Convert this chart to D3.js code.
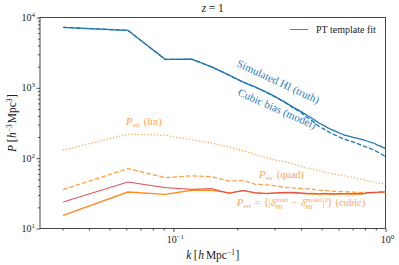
<!DOCTYPE html>
<html>
<head>
<meta charset="utf-8">
<script src="https://cdn.jsdelivr.net/npm/d3@7"></script>
<style>
	body { margin: 0; background: #fff; }
	svg { display: block; }
	text { font-family: "Liberation Serif", "DejaVu Serif", serif; }
</style>
</head>
<body>
<div class="chart"></div>
<script>

// wavenumbers k [h/Mpc]
const kvals = [0.0302, 0.061, 0.0915, 0.122, 0.1525, 0.183, 0.2135, 0.244, 0.2745, 0.305,
	0.3355, 0.366, 0.3965, 0.427, 0.4575, 0.488, 0.5185, 0.549, 0.5795, 0.61,
	0.6405, 0.671, 0.7015, 0.732, 0.7625, 0.793, 0.8235, 0.854, 0.8845, 0.915,
	0.9455, 0.976, 1.0065];

const truth = [7250, 6570, 2540, 2565, 1970, 1520, 1205, 1025, 868, 737,
	626, 531, 466, 408, 358, 314, 285, 258, 242, 226,
	212, 205, 198, 192, 186, 180, 174, 168, 163, 153,
	148, 141, 137];

const model = [7230, 6540, 2530, 2555, 1965, 1515, 1200, 1020, 862, 730,
	618, 522, 451, 382, 330, 280, 254, 230, 212, 198,
	186, 177, 170, 163, 155, 148, 141, 136, 130, 123,
	117, 110, 104];

const errLin = [130, 219, 212, 183, 163, 145, 127.5, 112, 101, 93.3,
	88.9, 83.2, 76.7, 71.8, 69.5, 66.2, 63.0, 60.9, 59.0, 57.1,
	56.2, 54.3, 53.5, 51.7, 50.1, 49.2, 47.6, 46.9, 45.4, 44.6,
	43.9, 43.9, 43.5];

const errQuad = [35.7, 71.1, 52.9, 56.2, 54.3, 47.3, 48.4, 42.5, 41.8, 40.4,
	38.5, 37.9, 37.2, 36.7, 36.1, 34.9, 34.9, 34.3, 33.8, 33.8,
	33.2, 33.2, 33.0, 32.7, 32.7, 32.1, 32.7, 32.1, 32.7, 32.4,
	32.7, 32.4, 32.4];

const ptFit = [23.8, 45.8, 38.1, 36.1, 36.9, 31.6, 34.9, 32.1, 31.6, 32.1,
	32.7, 32.7, 32.1, 31.6, 31.6, 31.1, 31.6, 31.1, 31.1, 31.6,
	31.1, 31.6, 31.1, 31.6, 31.1, 31.6, 32.1, 32.7, 32.7, 32.7,
	33.0, 33.0, 33.0];

const errCubic = [15.4, 33.0, 30.6, 34.9, 34.9, 32.1, 34.3, 32.1, 31.3, 31.8,
	32.2, 32.0, 31.6, 31.2, 31.0, 30.8, 31.2, 30.9, 30.7, 31.2,
	30.8, 31.0, 30.7, 31.1, 30.9, 31.3, 31.8, 32.3, 32.4, 32.6,
	32.9, 33.1, 33.2];

const xDomain = [0.0235, 1];
const yDomain = [10, 1e4];
const xMajor = [0.1, 1];
const yMajor = [10, 100, 1000, 10000];

const width = 399;
const height = 265;
const mLeft = 40, mRight = 385.5, mTop = 17.5, mBottom = 228.5;

const blue = "#1f77b4";
const orange = "#ff8c1f";
const orangeLight = "#ff9f45";
const orangeText = "#ffa352";
const red = "#dd4a50";

const x = d3.scaleLog().domain(xDomain).range([mLeft, mRight]);
const y = d3.scaleLog().domain(yDomain).range([mBottom, mTop]);

const svg = d3.select(".chart")
	.append("svg")
		.attr("width", width)
		.attr("height", height);

svg.append("clipPath")
		.attr("id", "clip")
	.append("rect")
		.attr("x", mLeft)
		.attr("y", mTop)
		.attr("width", mRight - mLeft)
		.attr("height", mBottom - mTop);

// lay out a run of text pieces (for super/subscripts)
function mathText(g, x0, y0, parts, color, size) {
	let cx = x0;
	let held = 0;
	parts.forEach((p) => {
		const t = g.append("text")
			.attr("x", cx)
			.attr("y", y0 + (p.dy || 0))
			.attr("fill", color)
			.attr("font-size", p.s || size)
			.attr("font-style", p.it ? "italic" : "normal")
			.text(p.t);
		const w = t.node().getComputedTextLength();
		if (p.hold) {
			held = Math.max(held, w);
		} else {
			cx += Math.max(w, held) + (p.pad || 0);
			held = 0;
		}
	});
	return cx - x0;
}

// minor tick values
const xMinor = [];
[0.01, 0.1].forEach((d) => {
	for (let i = 2; i < 10; i++) {
		const v = d * i;
		if (v > xDomain[0] && v < xDomain[1]) xMinor.push(v);
	}
});
const yMinor = [];
[10, 100, 1000].forEach((d) => {
	for (let i = 2; i < 10; i++) yMinor.push(d * i);
});

// axes
svg.append("g")
	.attr("class", "x-axis")
	.attr("transform", `translate(0,${mBottom})`)
	.call(d3.axisBottom(x).tickValues(xMajor).tickSize(3.5).tickFormat(""));
svg.append("g")
	.attr("transform", `translate(0,${mBottom})`)
	.call(d3.axisBottom(x).tickValues(xMinor).tickSize(2).tickFormat(""));

svg.append("g")
	.attr("class", "y-axis")
	.attr("transform", `translate(${mLeft},0)`)
	.call(d3.axisLeft(y).tickValues(yMajor).tickSize(3.5).tickFormat(""));
svg.append("g")
	.attr("transform", `translate(${mLeft},0)`)
	.call(d3.axisLeft(y).tickValues(yMinor).tickSize(2).tickFormat(""));

svg.selectAll(".domain").remove();
svg.selectAll(".tick line").attr("stroke", "#222").attr("stroke-width", 0.8);

// tick labels with superscripts
const labels = svg.append("g");
xMajor.forEach((v) => {
	const e = Math.round(Math.log10(v));
	const g = labels.append("g");
	const w = mathText(g, 0, 0, [
		{t: "10"},
		{t: (e < 0 ? "\u2212" : "") + Math.abs(e), s: 7, dy: -4}
	], "#222", 10);
	g.attr("transform", `translate(${x(v) - w / 2 + 2},${mBottom + 14})`);
});
yMajor.forEach((v) => {
	const e = Math.round(Math.log10(v));
	const g = labels.append("g");
	const w = mathText(g, 0, 0, [
		{t: "10"},
		{t: "" + e, s: 7, dy: -4}
	], "#222", 10);
	g.attr("transform", `translate(${mLeft - 5 - w},${y(v) + 3.5})`);
});

// frame
svg.append("rect")
	.attr("x", mLeft)
	.attr("y", mTop)
	.attr("width", mRight - mLeft)
	.attr("height", mBottom - mTop)
	.attr("fill", "none")
	.attr("stroke", "#333")
	.attr("stroke-width", 0.9);

// series lines
const line = d3.line()
	.x((d) => x(d[0]))
	.y((d) => y(d[1]));

const series = [
	{v: errLin, color: orangeLight, w: 1.2, dash: "1.2,2"},
	{v: errQuad, color: orangeLight, w: 1.3, dash: "4.5,2.2"},
	{v: errCubic, color: orange, w: 1.4, dash: null},
	{v: ptFit, color: red, w: 1.0, dash: null},
	{v: truth, color: blue, w: 1.3, dash: null},
	{v: model, color: blue, w: 1.3, dash: "4.5,2"}
];

const chart = svg.append("g").attr("clip-path", "url(#clip)");
chart.selectAll(".series")
	.data(series).enter()
	.append("path")
		.attr("class", "series")
		.attr("fill", "none")
		.attr("stroke", (d) => d.color)
		.attr("stroke-width", (d) => d.w)
		.attr("stroke-dasharray", (d) => d.dash)
		.attr("d", (d) => line(kvals.map((k, i) => [k, d.v[i]])));

// title
const title = svg.append("g");
const tw = mathText(title, 0, 0, [{t: "z", it: true, pad: 2.5}, {t: "= 1"}], "#222", 11.5);
title.attr("transform", `translate(${(mLeft + mRight) / 2 - tw / 2},12)`);

// legend
svg.append("line")
	.attr("x1", 290).attr("x2", 308)
	.attr("y1", 29.5).attr("y2", 29.5)
	.attr("stroke", red)
	.attr("stroke-width", 1);
svg.append("text")
	.attr("x", 316)
	.attr("y", 32.5)
	.attr("font-size", 10)
	.attr("fill", "#222")
	.text("PT template fit");

// axis titles
const xl = svg.append("g");
const xlw = mathText(xl, 0, 0, [
	{t: "k", it: true, pad: 2.5},
	{t: "[", pad: 0.5},
	{t: "h", it: true, pad: 2},
	{t: "Mpc"},
	{t: "\u22121", s: 7.5, dy: -4.5, pad: 0.5},
	{t: "]"}
], "#222", 11.5);
xl.attr("transform", `translate(${(mLeft + mRight) / 2 - xlw / 2},259)`);

const yl = svg.append("g");
const ylw = mathText(yl, 0, 0, [
	{t: "P", it: true, pad: 2.5},
	{t: "[", pad: 0.5},
	{t: "h", it: true},
	{t: "\u22123", s: 7.5, dy: -4.5, pad: 1},
	{t: "Mpc"},
	{t: "3", s: 7.5, dy: -4.5, pad: 0.5},
	{t: "]"}
], "#222", 11.5);
yl.attr("transform", `translate(16,${(mTop + mBottom) / 2 + ylw / 2}) rotate(-90)`);

// blue annotations
svg.append("text")
	.attr("transform", "translate(236,66) rotate(25)")
	.attr("font-size", 11)
	.attr("fill", "#2b7dbf")
	.text("Simulated HI (truth)");
svg.append("text")
	.attr("transform", "translate(237,95) rotate(24)")
	.attr("font-size", 11)
	.attr("fill", "#2b7dbf")
	.text("Cubic bias (model)");

// orange annotations
const perr = [
	{t: "P", it: true},
	{t: "err", s: 7, dy: 2, pad: 3.5}
];
mathText(svg.append("g"), 126, 125, perr.concat([{t: "(lin)"}]), orangeText, 10.5);
mathText(svg.append("g"), 259, 178, perr.concat([{t: "(quad)"}]), orangeText, 10.5);
mathText(svg.append("g"), 237, 206, perr.concat([
	{t: "=", pad: 3.5},
	{t: "\u27e8|", pad: 0.5},
	{t: "\u03b4", it: true},
	{t: "truth", s: 6.5, dy: -4.5, hold: true},
	{t: "HI", s: 6.5, dy: 2.5, pad: 3.5},
	{t: "\u2212", pad: 3.5},
	{t: "\u03b4", it: true},
	{t: "model", s: 6.5, dy: -4.5, hold: true},
	{t: "HI", s: 6.5, dy: 2.5, pad: 0.5},
	{t: "|"},
	{t: "2", s: 6.5, dy: -4.5},
	{t: "\u27e9", pad: 3.5},
	{t: "(cubic)"}
]), orangeText, 10.5);

</script>
</body>
</html>
